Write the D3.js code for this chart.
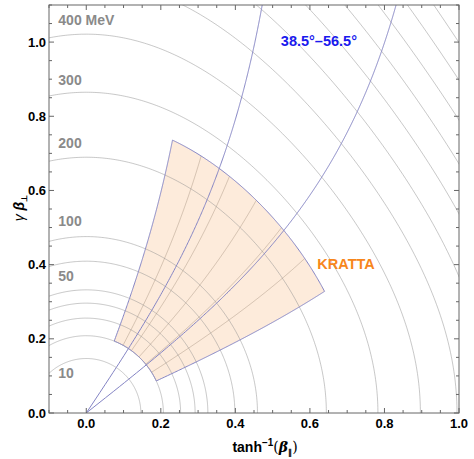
<!DOCTYPE html>
<html>
<head>
<meta charset="utf-8">
<script src="https://cdn.jsdelivr.net/npm/d3@7"></script>
<style>
  body { margin: 0; background: #fff; }
  text { font-family: "Liberation Sans", Arial, sans-serif; }
</style>
</head>
<body>
<div id="chart"></div>
<script>
// energy contours (MeV per nucleon) and their labels
var energies = [10, 20, 30, 40, 50, 75, 100, 200, 300, 400, 500, 600, 700, 800, 900, 1000, 1100, 1200];
var labelEnergies = [10, 50, 100, 200, 300, 400];
var labelTexts = ["10", "50", "100", "200", "300", "400 MeV"];
// lab angles of the two blue lines (deg)
var angleLines = [38.5, 56.5];
// KRATTA acceptance: angles (deg) and energies (MeV)
var kThetaRange = [24.5, 68.5];
var kEnergyRange = [20, 256];
var kMeshAngles = [31.8, 39.2, 46.5, 53.8, 61.2];
var xTicks = [0, 0.2, 0.4, 0.6, 0.8, 1.0];
var yTicks = [0, 0.2, 0.4, 0.6, 0.8, 1.0];

var AMU = 931.5;

var width = 474, height = 459,
    margin = {top: 5, right: 15, bottom: 46, left: 49};

var x = d3.scaleLinear().domain([-0.1, 1.0]).range([margin.left, width - margin.right]);
var y = d3.scaleLinear().domain([0, 1.1]).range([height - margin.bottom, margin.top]);

// rapidity / transverse momentum of a particle with energy E at lab angle th
function kin(E, th) {
  var g = 1 + E / AMU,
      b = Math.sqrt(1 - 1 / (g * g)),
      t = th * Math.PI / 180;
  return [Math.atanh(b * Math.cos(t)), g * b * Math.sin(t)];
}

var line = d3.line()
    .x(function(d) { return x(d[0]); })
    .y(function(d) { return y(d[1]); });

var svg = d3.select("#chart").append("svg")
    .attr("width", width)
    .attr("height", height);

svg.append("clipPath").attr("id", "clip")
  .append("rect")
    .attr("x", x(-0.1)).attr("y", y(1.1))
    .attr("width", x(1.0) - x(-0.1))
    .attr("height", y(0) - y(1.1));

var plot = svg.append("g").attr("clip-path", "url(#clip)");

// shaded acceptance region
var thetas = d3.range(kThetaRange[0], kThetaRange[1] + 0.01, 0.25);
var es = d3.range(kEnergyRange[0], kEnergyRange[1] + 0.01, 1);
var region = []
  .concat(thetas.map(function(t) { return kin(kEnergyRange[1], t); }))
  .concat(es.slice().reverse().map(function(e) { return kin(e, kThetaRange[1]); }))
  .concat(thetas.slice().reverse().map(function(t) { return kin(kEnergyRange[0], t); }))
  .concat(es.map(function(e) { return kin(e, kThetaRange[0]); }));

plot.append("path")
    .attr("d", line(region) + "Z")
    .attr("fill", "#fdebdb")
    .attr("stroke", "none");

// mesh lines inside region
plot.selectAll(".mesh")
  .data(kMeshAngles)
  .enter().append("path")
    .attr("d", function(t) { return line(es.map(function(e) { return kin(e, t); })); })
    .attr("fill", "none")
    .attr("stroke", "rgba(120,100,80,0.3)")
    .attr("stroke-width", 1);

// energy contours
var arcThetas = d3.range(0, 180.01, 0.5);
plot.selectAll(".arc")
  .data(energies)
  .enter().append("path")
    .attr("d", function(E) { return line(arcThetas.map(function(t) { return kin(E, t); })); })
    .attr("fill", "none")
    .attr("stroke", "rgba(140,140,140,0.48)")
    .attr("stroke-width", 1);

// region outline
plot.append("path")
    .attr("d", line(region) + "Z")
    .attr("fill", "none")
    .attr("stroke", "#8484c4")
    .attr("stroke-width", 1);

// constant-angle lines
var lineEs = d3.range(0, 4000, 2);
plot.selectAll(".ang")
  .data(angleLines)
  .enter().append("path")
    .attr("d", function(t) { return line(lineEs.map(function(e) { return kin(e, t); })); })
    .attr("fill", "none")
    .attr("stroke", "#8484c4")
    .attr("stroke-width", 1);

// energy labels
var labelY = {10: 0.095, 50: 0.355, 100: 0.505, 200: 0.715, 300: 0.885, 400: 1.045};
svg.selectAll(".elab")
  .data(labelEnergies)
  .enter().append("text")
    .attr("x", x(-0.075))
    .attr("y", function(E) { return y(labelY[E]); })
    .attr("font-size", "14px")
    .attr("font-weight", "bold")
    .attr("fill", "#8a8a8a")
    .text(function(E, i) { return labelTexts[i]; });

svg.append("text")
    .attr("x", x(0.522)).attr("y", y(0.99))
    .attr("font-size", "14.5px").attr("font-weight", "bold")
    .attr("fill", "#1a1aee")
    .text("38.5°–56.5°");

svg.append("text")
    .attr("x", x(0.62)).attr("y", y(0.388))
    .attr("font-size", "14.5px").attr("font-weight", "bold")
    .attr("fill", "#f7861c")
    .text("KRATTA");

// frame and ticks
var frame = svg.append("g").attr("stroke", "#666").attr("stroke-width", 1);
frame.append("rect")
    .attr("x", x(-0.1)).attr("y", y(1.1))
    .attr("width", x(1.0) - x(-0.1))
    .attr("height", y(0) - y(1.1))
    .attr("fill", "none");

var xMinor = d3.range(-0.1, 1.0001, 0.05);
var yMinor = d3.range(0, 1.1001, 0.05);
function isMajor(v) { return Math.abs(v * 5 - Math.round(v * 5)) < 1e-6; }

xMinor.forEach(function(v) {
  var len = isMajor(v) ? 5 : 3;
  frame.append("line").attr("x1", x(v)).attr("x2", x(v)).attr("y1", y(0)).attr("y2", y(0) - len);
  frame.append("line").attr("x1", x(v)).attr("x2", x(v)).attr("y1", y(1.1)).attr("y2", y(1.1) + len);
});
yMinor.forEach(function(v) {
  var len = isMajor(v) ? 5 : 3;
  frame.append("line").attr("y1", y(v)).attr("y2", y(v)).attr("x1", x(-0.1)).attr("x2", x(-0.1) + len);
  frame.append("line").attr("y1", y(v)).attr("y2", y(v)).attr("x1", x(1.0)).attr("x2", x(1.0) - len);
});

svg.selectAll(".xt")
  .data(xTicks)
  .enter().append("text")
    .attr("x", function(d) { return x(d); })
    .attr("y", y(0) + 15)
    .attr("text-anchor", "middle")
    .attr("font-size", "13px").attr("font-weight", "bold")
    .text(function(d) { return d.toFixed(1); });

svg.selectAll(".yt")
  .data(yTicks)
  .enter().append("text")
    .attr("x", x(-0.1) - 3)
    .attr("y", function(d) { return y(d) + 4.5; })
    .attr("text-anchor", "end")
    .attr("font-size", "13px").attr("font-weight", "bold")
    .text(function(d) { return d.toFixed(1); });

// axis labels
var xl = svg.append("text")
    .attr("x", 265).attr("y", 452)
    .attr("text-anchor", "middle")
    .attr("font-size", "14px").attr("font-weight", "bold");
xl.append("tspan").text("tanh");
xl.append("tspan").attr("dy", -6).attr("font-size", "10px").text("−1");
xl.append("tspan").attr("dy", 6).attr("font-family", "DejaVu Serif, serif").attr("font-weight", "normal").text("(");
xl.append("tspan").attr("font-family", "DejaVu Serif, serif").attr("font-style", "italic").text("β");
xl.append("tspan").attr("dy", 3).attr("font-size", "8px").text("∥");
xl.append("tspan").attr("dy", -3).attr("font-family", "DejaVu Serif, serif").attr("font-weight", "normal").text(")");

var yl = svg.append("text")
    .attr("transform", "translate(24,208) rotate(-90)")
    .attr("text-anchor", "middle")
    .attr("font-size", "14px")
    .attr("font-family", "DejaVu Serif, serif");
yl.append("tspan").attr("font-style", "italic").text("γ ");
yl.append("tspan").attr("font-style", "italic").attr("font-weight", "bold").text("β");
yl.append("tspan").attr("dy", 3).attr("font-size", "8px").attr("font-weight", "bold").text("⊥");
</script>
</body>
</html>
